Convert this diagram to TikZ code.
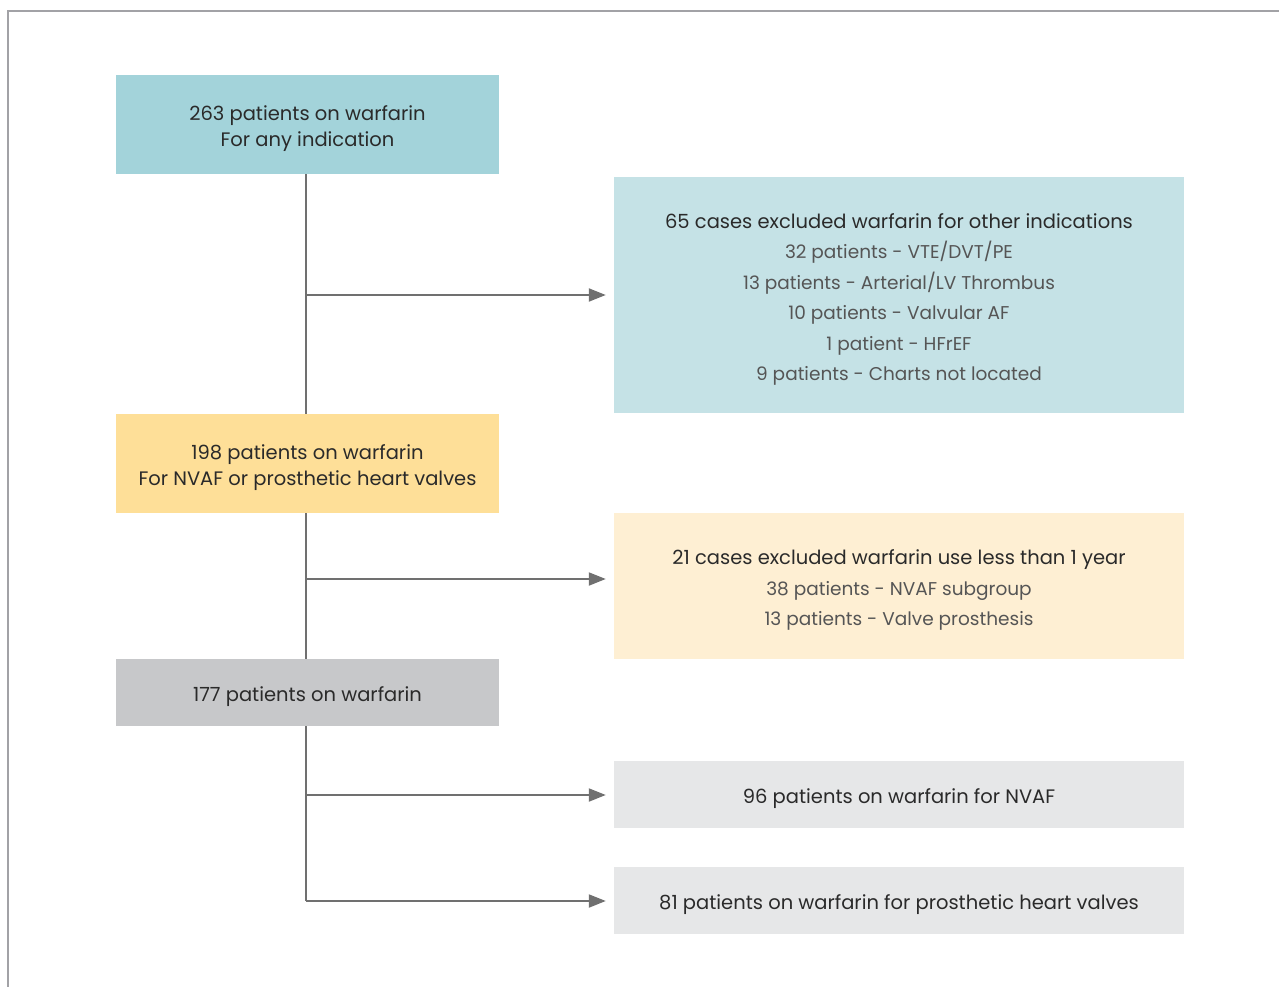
\documentclass[tikz,border=0pt]{standalone}
\usepackage{fontspec}
\setmainfont{Poppins}
\usetikzlibrary{arrows.meta}
\definecolor{topblue}{HTML}{A3D3DA}
\definecolor{sideblue}{HTML}{C5E2E6}
\definecolor{topyellow}{HTML}{FEDF98}
\definecolor{sideyellow}{HTML}{FEEFD3}
\definecolor{topgray}{HTML}{C7C8CA}
\definecolor{sidegray}{HTML}{E6E7E8}
\definecolor{linegray}{HTML}{707070}
\definecolor{framegray}{HTML}{A2A2A6}
\definecolor{headtext}{HTML}{2A2A2A}
\definecolor{subtext}{HTML}{555555}
\newcommand{\sub}[1]{{\fontsize{18.5}{30.5}\selectfont\color{subtext}#1}}
\newcommand{\topstrut}{\rule{0pt}{23.5pt}}
\begin{document}
\begin{tikzpicture}[x=1pt,y=-1pt,
    flowbox/.style={rectangle, inner sep=0pt, align=center, text=headtext},
    leftbox/.style={flowbox, minimum width=383pt,
        font=\fontsize{19.5}{26.5}\selectfont},
    rightbox/.style={flowbox, minimum width=570pt,
        font=\fontsize{19.5}{30.5}\selectfont},
    flowline/.style={linegray, line width=2pt},
    flowarrow/.style={flowline, -{Triangle[length=17pt,width=13pt]}, shorten >=8pt}]
    \useasboundingbox (0,0) rectangle (1279,987);
    \draw[framegray, line width=2pt] (8,987) -- (8,11.5) -- (1279,11.5);

    \node[leftbox, fill=topblue, minimum height=99pt] (all) at (307.5,124.5)
        {\topstrut 263 patients on warfarin\\For any indication};
    \node[rightbox, fill=sideblue, minimum height=236pt] (exclA) at (899,295)
        {\topstrut 65 cases excluded warfarin for other indications\\
         \sub{32 patients - VTE/DVT/PE}\\
         \sub{13 patients - Arterial/LV Thrombus}\\
         \sub{10 patients - Valvular AF}\\
         \sub{1 patient - HFrEF}\\
         \sub{9 patients - Charts not located}};
    \node[leftbox, fill=topyellow, minimum height=99pt] (nvaf) at (307.5,463.5)
        {\topstrut 198 patients on warfarin\\For NVAF or prosthetic heart valves};
    \node[rightbox, fill=sideyellow, minimum height=146pt] (exclB) at (899,586)
        {\topstrut 21 cases excluded warfarin use less than 1 year\\
         \sub{38 patients - NVAF subgroup}\\
         \sub{13 patients - Valve prosthesis}};
    \node[leftbox, fill=topgray, minimum height=67pt] (final) at (307.5,692.5)
        {\topstrut 177 patients on warfarin};
    \node[rightbox, fill=sidegray, minimum height=67pt] (grpNVAF) at (899,794.5)
        {\topstrut 96 patients on warfarin for NVAF};
    \node[rightbox, fill=sidegray, minimum height=67pt] (grpValve) at (899,900.5)
        {\topstrut 81 patients on warfarin for prosthetic heart valves};

    \coordinate (jA) at (306,295);
    \coordinate (jB) at (306,579);
    \coordinate (jC) at (306,795);
    \coordinate (jD) at (306,901);

    \draw[flowline] (all.south -| jA) -- (nvaf.north -| jA);
    \draw[flowline] (nvaf.south -| jB) -- (final.north -| jB);
    \draw[flowline] (final.south -| jC) -- (jD);

    \draw[flowarrow] (jA) -- (jA -| exclA.west);
    \draw[flowarrow] (jB) -- (jB -| exclB.west);
    \draw[flowarrow] (jC) -- (jC -| grpNVAF.west);
    \draw[flowarrow] (jD) -- (jD -| grpValve.west);
\end{tikzpicture}
\end{document}
